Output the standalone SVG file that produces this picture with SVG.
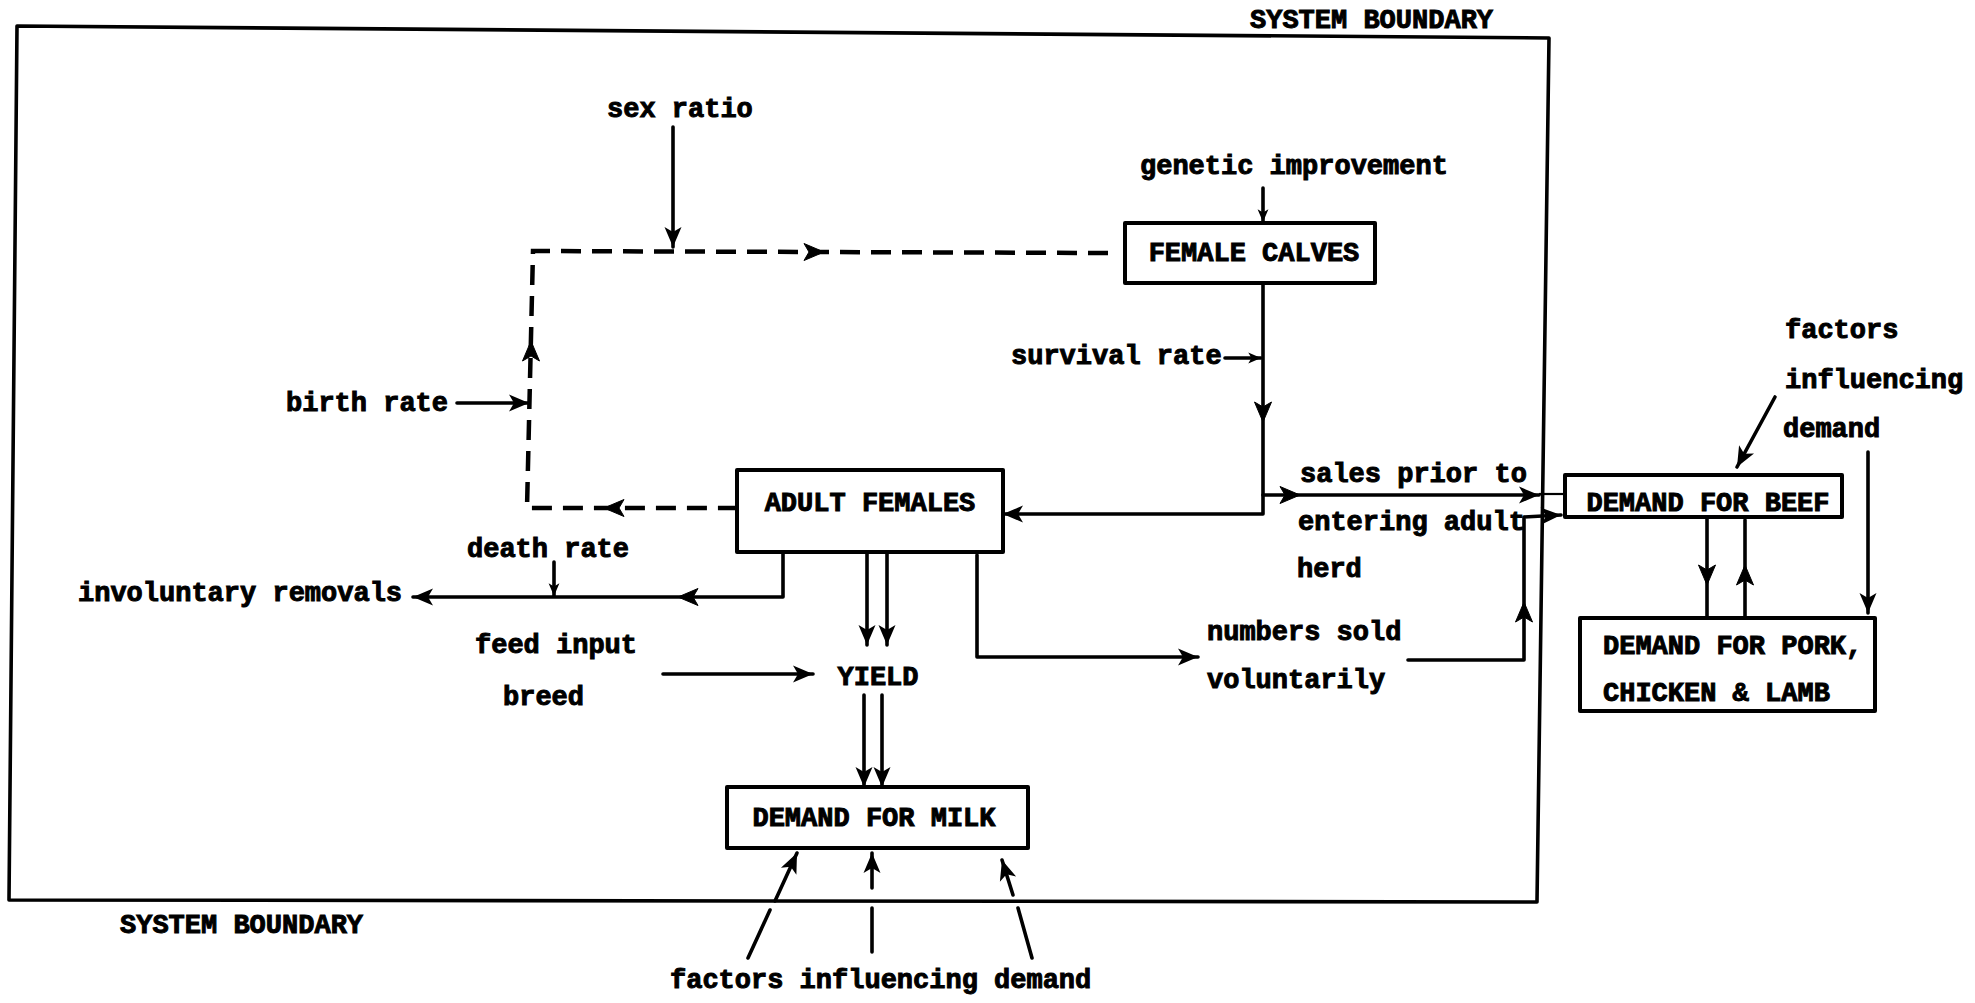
<svg xmlns="http://www.w3.org/2000/svg" xmlns:xlink="http://www.w3.org/1999/xlink" width="1975" height="1003" viewBox="0 0 1975 1003">
<style>
  .t { font-family: "Liberation Mono", "DejaVu Sans Mono", monospace; font-weight: bold; font-size: 27px; fill: #000; stroke: #000; stroke-width: 1; }
  .box { fill: #fff; stroke: #000; stroke-width: 4; stroke-linejoin: round; }
  .ln { fill: none; stroke: #000; stroke-width: 3.6; stroke-linejoin: round; stroke-linecap: round; }
  .thin { fill: none; stroke: #000; stroke-width: 2.2; }
  .dash { fill: none; stroke: #000; stroke-width: 4.5; stroke-dasharray: 20 11; stroke-linejoin: miter; }
  .bnd { fill: none; stroke: #000; stroke-width: 3.6; stroke-linejoin: round; }
  .hd { fill: #000; stroke: #000; stroke-width: 1; stroke-linejoin: round; }
</style>
<defs>
  <path id="head" d="M0,0 L-20,-8.5 L-15,0 L-20,8.5 Z"/>
  <marker id="arr" viewBox="-22 -11 23 22" refX="0" refY="0" markerWidth="23" markerHeight="22" markerUnits="userSpaceOnUse" orient="auto">
    <path d="M0,0 L-20,-8.5 L-15,0 L-20,8.5 Z" fill="#000"/>
  </marker>
  <marker id="arrS" viewBox="-22 -11 23 22" refX="0" refY="0" markerWidth="15" markerHeight="14" markerUnits="userSpaceOnUse" orient="auto">
    <path d="M0,0 L-20,-8.5 L-15,0 L-20,8.5 Z" fill="#000"/>
  </marker>
</defs>
<rect width="1975" height="1003" fill="#fff"/>

<g id="system-boundary">
  <polygon class="bnd" points="17,26 1549,38 1537,902 9,900"/>
  <text class="t" x="1250" y="28">SYSTEM BOUNDARY</text>
  <text class="t" x="120" y="933">SYSTEM BOUNDARY</text>
</g>

<g id="connectors">
  <!-- sex ratio -->
  <line class="ln" x1="673" y1="127" x2="673" y2="247" marker-end="url(#arr)"/>
  <!-- dashed birth loop -->
  <path class="dash" d="M1108,253 L533,251 L527,508 L737,508"/>
  <use href="#head" class="hd" transform="translate(824,252)"/>
  <use href="#head" class="hd" transform="translate(531,341) rotate(-90)"/>
  <use href="#head" class="hd" transform="translate(604,508) rotate(180)"/>
  <!-- birth rate -->
  <line class="ln" x1="457" y1="403" x2="529" y2="403" marker-end="url(#arr)"/>
  <!-- genetic improvement -->
  <line class="ln" x1="1263" y1="188" x2="1263" y2="222" marker-end="url(#arrS)"/>
  <!-- female calves to adult females -->
  <path class="ln" d="M1263,283 L1263,514 L1003,514" marker-end="url(#arr)"/>
  <use href="#head" class="hd" transform="translate(1263,422) rotate(90)"/>
  <!-- survival rate -->
  <line class="ln" x1="1225" y1="358" x2="1261" y2="358" marker-end="url(#arrS)"/>
  <!-- sales prior to entering adult herd -->
  <line class="ln" x1="1263" y1="495" x2="1539" y2="495" marker-end="url(#arr)"/>
  <use href="#head" class="hd" transform="translate(1300,495)"/>
  <line class="thin" x1="1539" y1="494" x2="1565" y2="494"/>
  <!-- numbers sold voluntarily to beef -->
  <path class="ln" d="M1408,660 L1524,660 L1524,517 L1561,515" marker-end="url(#arr)"/>
  <use href="#head" class="hd" transform="translate(1524,602) rotate(-90)"/>
  <!-- adult females to involuntary removals -->
  <path class="ln" d="M783,552 L783,597 L413,597" marker-end="url(#arr)"/>
  <use href="#head" class="hd" transform="translate(678,597) rotate(180)"/>
  <!-- death rate -->
  <line class="ln" x1="554" y1="562" x2="554" y2="596" marker-end="url(#arrS)"/>
  <!-- adult females to yield (double) -->
  <line class="ln" x1="867" y1="554" x2="867" y2="645" marker-end="url(#arr)"/>
  <line class="ln" x1="887" y1="554" x2="887" y2="645" marker-end="url(#arr)"/>
  <!-- feed input / breed to yield -->
  <line class="ln" x1="663" y1="674" x2="813" y2="674" marker-end="url(#arr)"/>
  <!-- yield to demand for milk (double) -->
  <line class="ln" x1="864" y1="695" x2="864" y2="787" marker-end="url(#arr)"/>
  <line class="ln" x1="882" y1="695" x2="882" y2="787" marker-end="url(#arr)"/>
  <!-- adult females to numbers sold -->
  <path class="ln" d="M977,555 L977,657 L1198,657" marker-end="url(#arr)"/>
  <!-- factors influencing demand for milk -->
  <line class="ln" x1="748" y1="958" x2="770" y2="910"/>
  <line class="ln" x1="775" y1="901" x2="797" y2="853" marker-end="url(#arr)"/>
  <line class="ln" x1="872" y1="952" x2="872" y2="908"/>
  <line class="ln" x1="872" y1="888" x2="872" y2="853" marker-end="url(#arr)"/>
  <line class="ln" x1="1032" y1="958" x2="1018" y2="908"/>
  <line class="ln" x1="1013" y1="895" x2="1002" y2="860" marker-end="url(#arr)"/>
  <!-- factors influencing demand for beef -->
  <line class="ln" x1="1775" y1="397" x2="1737" y2="467" marker-end="url(#arr)"/>
  <line class="ln" x1="1868" y1="452" x2="1868" y2="613" marker-end="url(#arr)"/>
  <!-- beef <-> pork, chicken & lamb -->
  <line class="ln" x1="1707" y1="518" x2="1707" y2="617"/>
  <use href="#head" class="hd" transform="translate(1707,585) rotate(90)"/>
  <line class="ln" x1="1745" y1="520" x2="1745" y2="616"/>
  <use href="#head" class="hd" transform="translate(1745,565) rotate(-90)"/>
</g>

<g id="female-calves">
  <rect class="box" x="1125" y="223" width="250" height="60"/>
  <text class="t" x="1254" y="261" text-anchor="middle">FEMALE CALVES</text>
</g>
<g id="adult-females">
  <rect class="box" x="737" y="470" width="266" height="82"/>
  <text class="t" x="870" y="511" text-anchor="middle">ADULT FEMALES</text>
</g>
<g id="yield">
  <text class="t" x="878" y="685" text-anchor="middle">YIELD</text>
</g>
<g id="demand-milk">
  <rect class="box" x="727" y="787" width="301" height="61"/>
  <text class="t" x="874" y="826" text-anchor="middle">DEMAND FOR MILK</text>
</g>
<g id="demand-beef">
  <rect class="box" x="1565" y="475" width="277" height="42"/>
  <text class="t" x="1708" y="511" text-anchor="middle">DEMAND FOR BEEF</text>
</g>
<g id="demand-pork">
  <rect class="box" x="1580" y="618" width="295" height="93"/>
  <text class="t" x="1603" y="654">DEMAND FOR PORK,</text>
  <text class="t" x="1603" y="701">CHICKEN &amp; LAMB</text>
</g>

<g id="sex-ratio"><text class="t" x="607" y="117">sex ratio</text></g>
<g id="genetic-improvement"><text class="t" x="1140" y="174">genetic improvement</text></g>
<g id="survival-rate"><text class="t" x="1011" y="364">survival rate</text></g>
<g id="birth-rate"><text class="t" x="286" y="411">birth rate</text></g>
<g id="death-rate"><text class="t" x="467" y="557">death rate</text></g>
<g id="involuntary-removals"><text class="t" x="78" y="601">involuntary removals</text></g>
<g id="feed-breed">
  <text class="t" x="475" y="653">feed input</text>
  <text class="t" x="503" y="705">breed</text>
</g>
<g id="sales-prior">
  <text class="t" x="1300" y="482">sales prior to</text>
  <text class="t" x="1298" y="530">entering adult</text>
  <text class="t" x="1297" y="577">herd</text>
</g>
<g id="numbers-sold">
  <text class="t" x="1207" y="640">numbers sold</text>
  <text class="t" x="1207" y="688">voluntarily</text>
</g>
<g id="factors-beef">
  <text class="t" x="1785" y="338">factors</text>
  <text class="t" x="1785" y="388">influencing</text>
  <text class="t" x="1783" y="437">demand</text>
</g>
<g id="factors-milk"><text class="t" x="670" y="988">factors influencing demand</text></g>
</svg>
